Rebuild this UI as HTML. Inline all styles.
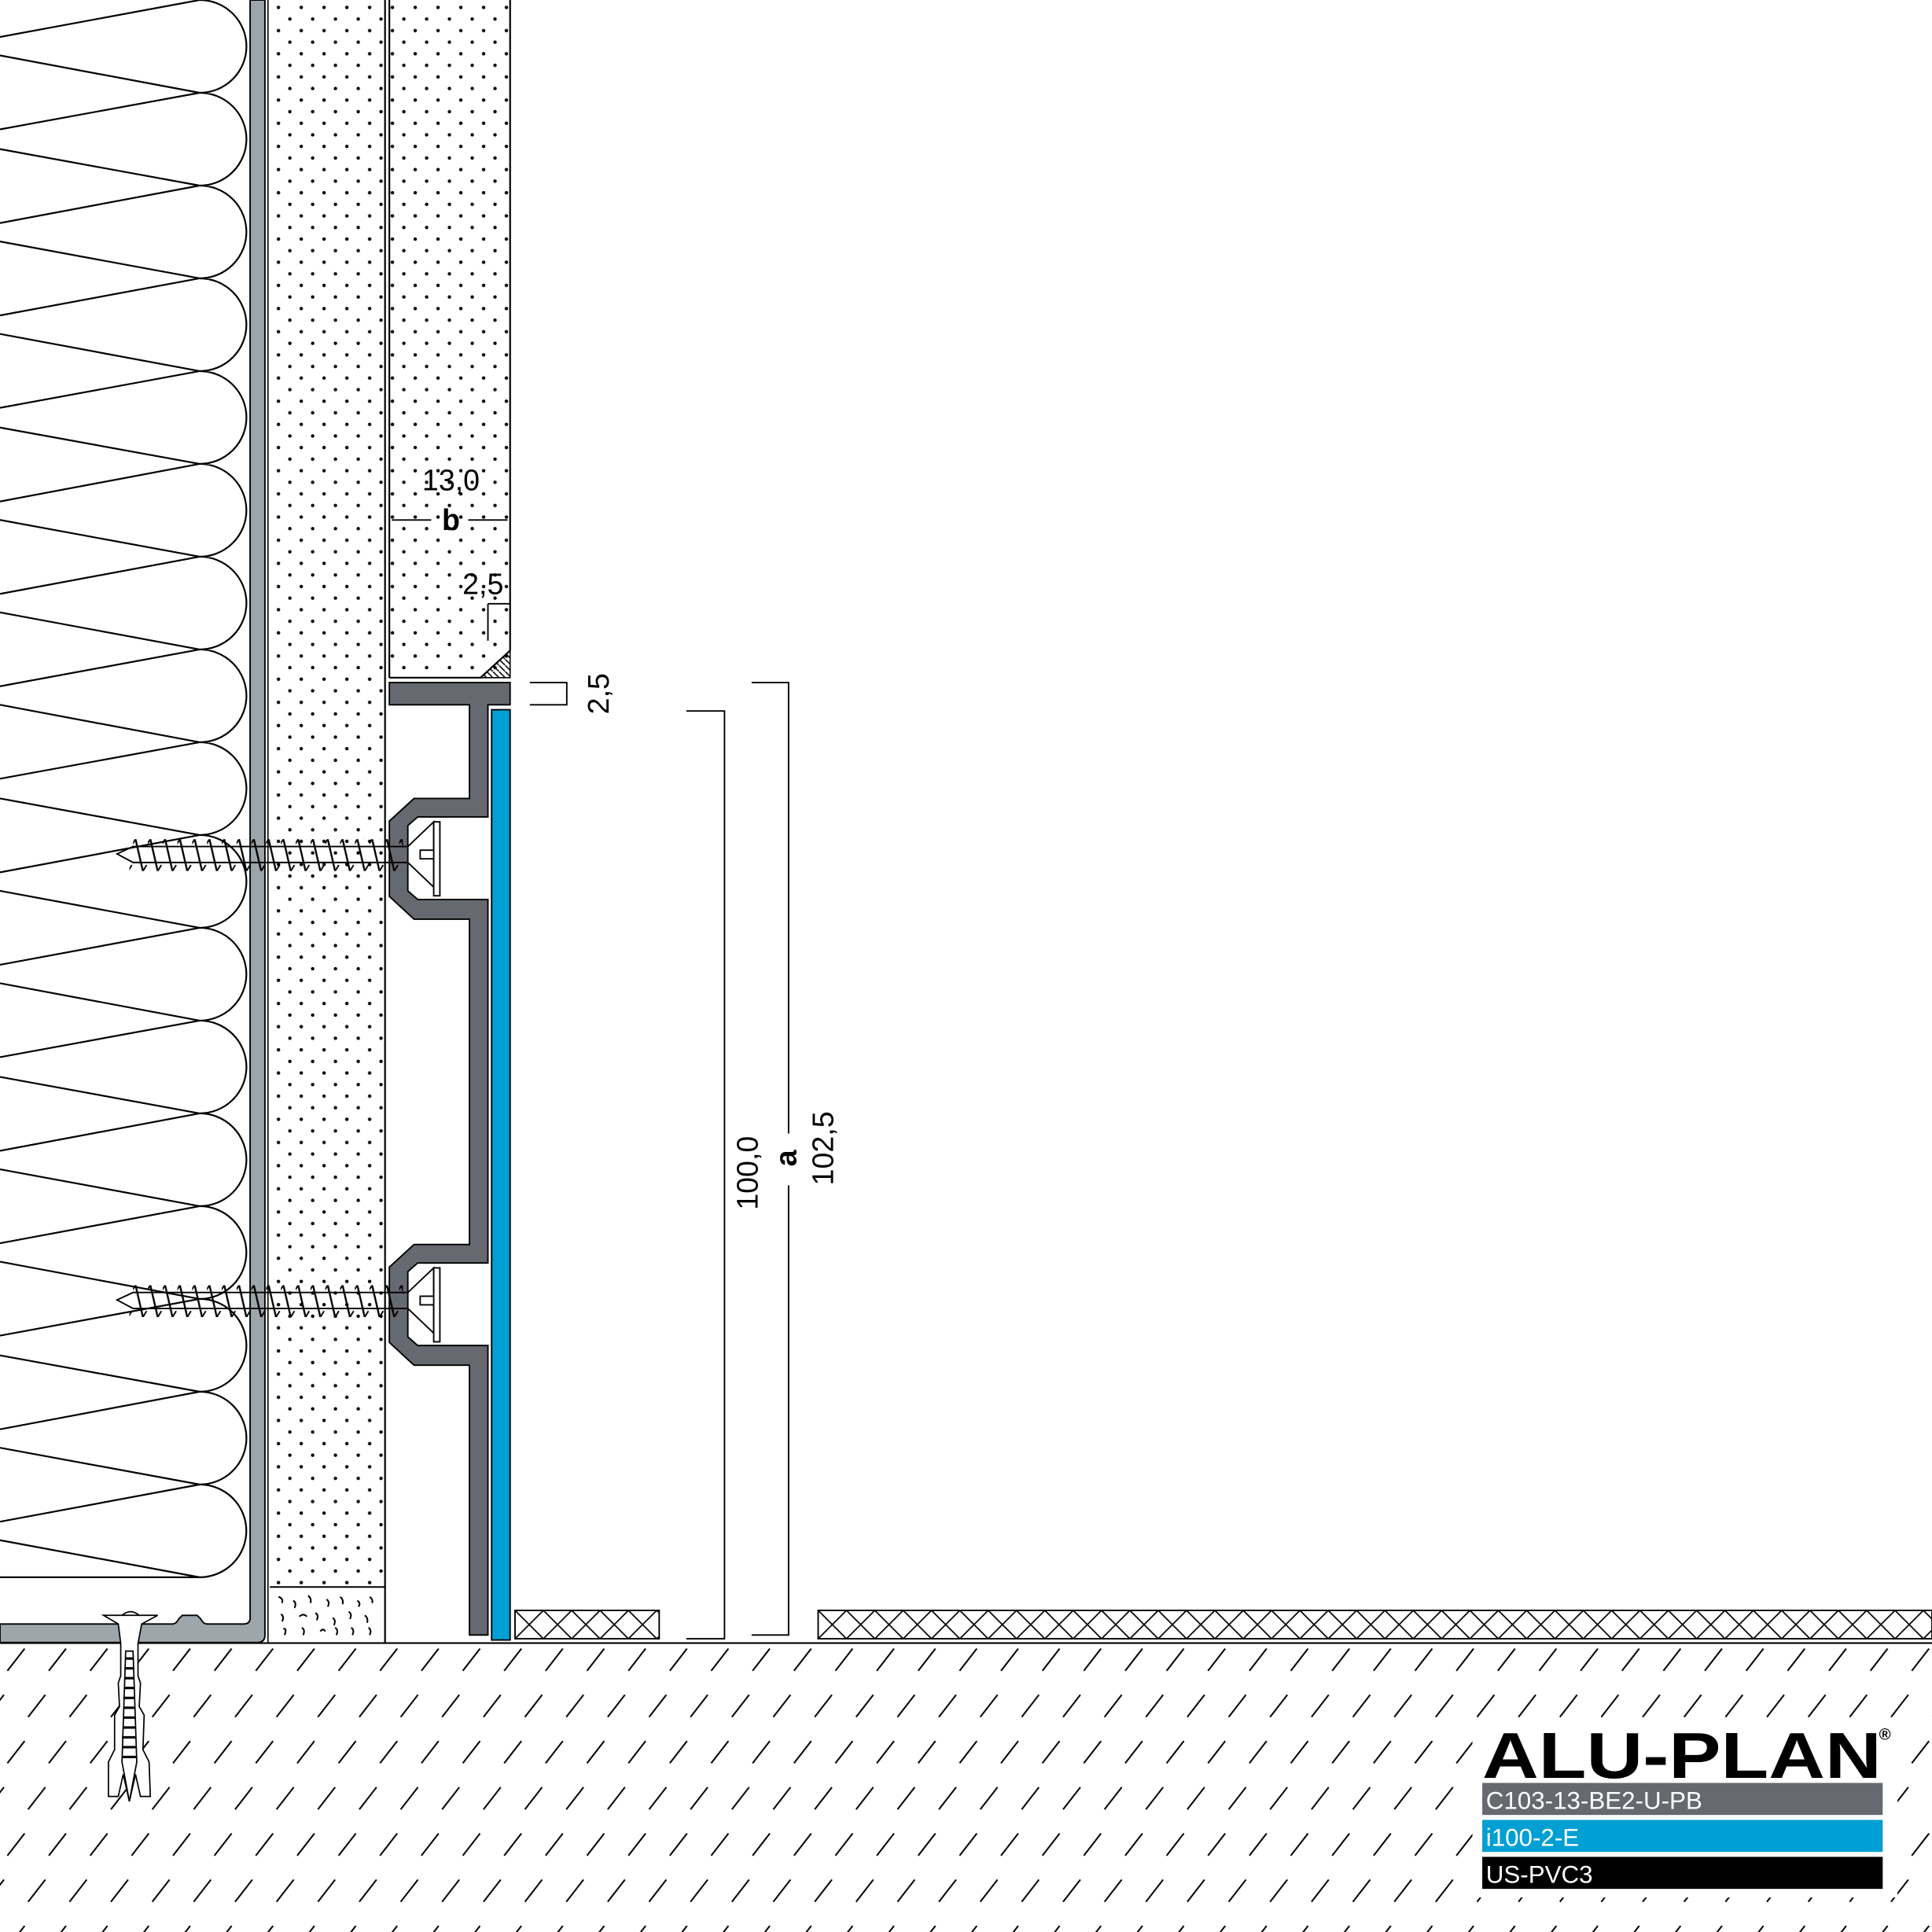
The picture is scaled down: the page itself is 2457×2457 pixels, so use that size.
<!DOCTYPE html>
<html><head><meta charset="utf-8"><style>
html,body{margin:0;padding:0;background:#fff;}
svg{display:block;}
text{font-family:"Liberation Sans",sans-serif;}
</style></head><body>
<svg width="2457" height="2457" viewBox="0 0 1568 1568" xmlns="http://www.w3.org/2000/svg">
<defs>
<pattern id="dots" patternUnits="userSpaceOnUse" x="0" y="4" width="18.5" height="18.8">
<circle cx="4" cy="2" r="1.4" fill="#000"/><circle cx="13.25" cy="11.4" r="1.4" fill="#000"/>
</pattern>
<pattern id="hatch" patternUnits="userSpaceOnUse" x="0" y="1336" width="33.6" height="75">
<line x1="6" y1="20" x2="20" y2="2" stroke="#000" stroke-width="1.3"/>
<line x1="22.8" y1="57.5" x2="36.8" y2="39.5" stroke="#000" stroke-width="1.3"/>
<line x1="-10.8" y1="57.5" x2="3.2" y2="39.5" stroke="#000" stroke-width="1.3"/>
</pattern>
<pattern id="xx" patternUnits="userSpaceOnUse" x="418" y="1307" width="23" height="23">
<path d="M0,0L23,23M23,0L0,23" stroke="#000" stroke-width="1.1"/>
</pattern>
<pattern id="xx2" patternUnits="userSpaceOnUse" x="664" y="1307" width="23" height="23">
<path d="M0,0L23,23M23,0L0,23" stroke="#000" stroke-width="1.1"/>
</pattern>
<pattern id="th1" patternUnits="userSpaceOnUse" x="0" y="681" width="12" height="26">
<path d="M2,0L8,26" stroke="#000" stroke-width="1.5"/><path d="M2,0L-1,5M8,26L11,21" stroke="#000" stroke-width="1.2"/>
</pattern>
<pattern id="th2" patternUnits="userSpaceOnUse" x="0" y="1043" width="12" height="26">
<path d="M2,0L8,26" stroke="#000" stroke-width="1.5"/><path d="M2,0L-1,5M8,26L11,21" stroke="#000" stroke-width="1.2"/>
</pattern>
<pattern id="sh" patternUnits="userSpaceOnUse" width="5" height="5">
<path d="M0,0L5,5" stroke="#000" stroke-width="1"/>
</pattern>
</defs>

<!-- floor hatch -->
<rect x="0" y="1336" width="1568" height="232" fill="url(#hatch)"/>
<rect x="1195" y="1395" width="345" height="145" fill="#fff"/>

<!-- insulation -->
<g fill="none" stroke="#000" stroke-width="1.4">
<path d="M162,0 A38,37.65 0 0 1 162,75.3 A38,37.65 0 0 1 162,150.6 A38,37.65 0 0 1 162,225.9 A38,37.65 0 0 1 162,301.2 A38,37.65 0 0 1 162,376.5 A38,37.65 0 0 1 162,451.8 A38,37.65 0 0 1 162,527.1 A38,37.65 0 0 1 162,602.4 A38,37.65 0 0 1 162,677.7 A38,37.65 0 0 1 162,753 A38,37.65 0 0 1 162,828.3 A38,37.65 0 0 1 162,903.6 A38,37.65 0 0 1 162,978.9 A38,37.65 0 0 1 162,1054.2 A38,37.65 0 0 1 162,1129.5 A38,37.65 0 0 1 162,1204.8 A38,37.65 0 0 1 162,1280.1"/>
<path d="M0,30L162,0 M0,45L162,75.3L0,105 M0,121L162,150.6L0,181 M0,196L162,225.9L0,256 M0,271L162,301.2L0,331 M0,347L162,376.5L0,407 M0,422L162,451.8L0,482 M0,497L162,527.1L0,557 M0,572L162,602.4L0,632 M0,648L162,677.7L0,708 M0,723L162,753L0,783 M0,798L162,828.3L0,858 M0,874L162,903.6L0,934 M0,949L162,978.9L0,1009 M0,1024L162,1054.2L0,1084 M0,1100L162,1129.5L0,1160 M0,1175L162,1204.8L0,1235 M0,1250L162,1280.1 L0,1280.1"/>
</g>

<!-- steel profile -->
<path d="M0,1318 L140,1318 Q143,1318 145,1314 L148,1311 L160,1311 L163,1314 Q165,1318 168,1318 L198,1318 Q203,1318 203,1313 L203,0 L215,0 L215,1327 Q215,1333 209,1333 L0,1333 Z" fill="#9da6aa" stroke="#000" stroke-width="1.2"/>
<line x1="217.5" y1="0" x2="217.5" y2="1333" stroke="#000" stroke-width="1"/>

<!-- boards -->
<rect x="219" y="0" width="93" height="1288" fill="url(#dots)"/>
<line x1="312.5" y1="0" x2="312.5" y2="1333" stroke="#000" stroke-width="1.4"/>
<line x1="219" y1="1288" x2="312" y2="1288" stroke="#000" stroke-width="1.2"/>
<g fill="none" stroke="#000" stroke-width="1.3">
<path d="M226,1296q4,1 3,5M238,1299q3,2 1,6M250,1295q3,2 2,6M265,1298q3,2 1,6M276,1296q3,2 2,6M290,1299q3,2 1,5M300,1296q3,2 2,5M228,1310q3,2 1,6M243,1312q3,-3 6,0M256,1309q3,2 1,6M270,1313q3,2 1,6M283,1308q3,2 1,6M296,1311q3,2 2,6M230,1322q3,-1 1,5M245,1321q3,2 1,6M260,1324q2,-3 4,0M272,1321q3,2 1,6M285,1321q3,2 1,6M299,1321q3,2 1,6"/>
</g>
<rect x="316" y="0" width="98" height="550" fill="url(#dots)"/>
<line x1="316" y1="0" x2="316" y2="550" stroke="#000" stroke-width="1.4"/>
<line x1="414" y1="0" x2="414" y2="528" stroke="#000" stroke-width="1.4"/>
<path d="M316,550 L390,550 L414,528" fill="none" stroke="#000" stroke-width="1.4"/>
<path d="M390,550 L414,528 L414,550 Z" fill="url(#sh)" stroke="#000" stroke-width="1"/>

<!-- floor -->
<line x1="0" y1="1333.5" x2="1568" y2="1333.5" stroke="#000" stroke-width="1.4"/>
<rect x="418" y="1307" width="117" height="23" fill="url(#xx)" stroke="#000" stroke-width="1.2"/>
<rect x="664" y="1307" width="904" height="23" fill="url(#xx2)" stroke="#000" stroke-width="1.2"/>

<!-- aluminium profile -->
<path d="M316,554 L414,554 L414,572 L396,572 L396,663 L339,663 L331,670 L331,723 L339,730 L396,730 L396,1025 L339,1025 L331,1032 L331,1085 L339,1092 L396,1092 L396,1327 L381,1327 L381,1108 L336,1108 L316,1089.5 L316,1028.4 L336,1010 L381,1010 L381,746 L336,746 L316,727.5 L316,666.4 L336,648 L381,648 L381,572 L316,572 Z" fill="#676970" stroke="#000" stroke-width="1.2"/>
<rect x="399" y="576" width="15" height="755" fill="#009fd4" stroke="#000" stroke-width="1.2"/>

<!-- screws -->
<g stroke="#000" stroke-width="1.2">
<rect x="105" y="681" width="222" height="26" fill="url(#th1)" stroke="none"/>
<path d="M108,687 L331,687 L352,667 L352,720 L331,700 L108,700 L95,693 Z" fill="none"/>
<rect x="352" y="667" width="5" height="60" fill="#fff"/>
<rect x="341" y="690" width="11" height="7" fill="#fff"/>
<rect x="105" y="1043" width="222" height="26" fill="url(#th2)" stroke="none"/>
<path d="M108,1049 L331,1049 L352,1029 L352,1082 L331,1062 L108,1062 L95,1055 Z" fill="none"/>
<rect x="352" y="1029" width="5" height="60" fill="#fff"/>
<rect x="341" y="1052" width="11" height="7" fill="#fff"/>
</g>

<!-- dowel -->
<g stroke="#000" stroke-width="1.1" fill="#fff">
<path d="M84,1311 L128,1311 L115,1318 L112,1334 L112,1360 L114,1366 L113,1385 L117,1392 L116,1420 L121,1430 L122,1458 L114,1458 L110,1440 L105,1462 L100,1440 L96,1458 L88,1458 L88,1430 L93,1420 L93,1392 L97,1385 L96,1366 L98,1360 L98,1334 L96,1318 Z"/>
<path d="M99,1311 Q106,1305 113,1311" fill="none"/>
<path d="M102,1340 L108,1340 L111,1430 L105,1462 L99,1430 Z" fill="#fff"/>
<path d="M102,1346h6M101,1354h7M101,1362h8M101,1370h8M100,1378h9M100,1386h9M100,1394h10M100,1402h10M99,1410h11M99,1418h11M99,1426h12" fill="none" stroke-width="2"/>
</g>

<!-- dimensions -->
<g stroke="#000" stroke-width="1.2" fill="none">
<path d="M318,422H350M380,422H412"/>
<path d="M396,490H414M396,490V520"/>
<path d="M430,554H460V572H430"/>
<path d="M557,577H588V1330H557"/>
<path d="M610,554H640V920M640,962V1327H610"/>
</g>
<text x="366" y="398" font-size="24" text-anchor="middle">13,0</text>
<text x="366" y="430" font-size="24" font-weight="bold" text-anchor="middle">b</text>
<text x="392" y="482" font-size="24" text-anchor="middle">2,5</text>
<text transform="translate(494,563) rotate(-90)" font-size="24" text-anchor="middle">2,5</text>
<text transform="translate(615,952) rotate(-90)" font-size="24" text-anchor="middle">100,0</text>
<text transform="translate(646,940) rotate(-90)" font-size="24" font-weight="bold" text-anchor="middle">a</text>
<text transform="translate(676,932) rotate(-90)" font-size="24" text-anchor="middle">102,5</text>

<!-- logo -->
<text x="1203" y="1443" font-size="53" font-weight="bold" textLength="324" lengthAdjust="spacingAndGlyphs">ALU-PLAN</text>
<text x="1525" y="1412" font-size="13" font-weight="bold">®</text>
<rect x="1203" y="1447" width="325" height="26" fill="#676970"/>
<rect x="1203" y="1477" width="325" height="26" fill="#009fd4"/>
<rect x="1203" y="1507" width="325" height="26" fill="#000"/>
<text x="1206" y="1468" font-size="20" fill="#fff">C103-13-BE2-U-PB</text>
<text x="1206" y="1498" font-size="20" fill="#fff">i100-2-E</text>
<text x="1206" y="1528" font-size="20" fill="#fff">US-PVC3</text>
</svg>
</body></html>
